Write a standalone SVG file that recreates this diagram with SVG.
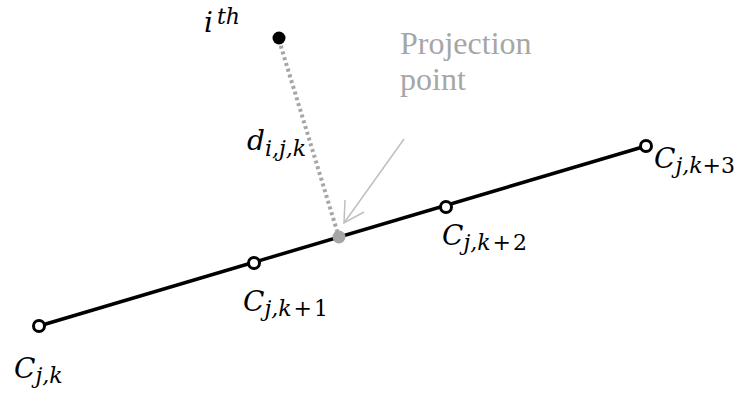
<svg xmlns="http://www.w3.org/2000/svg" width="737" height="394" viewBox="0 0 737 394">
<style>
.m{font-family:"DejaVu Serif","Liberation Serif",serif;font-style:italic;fill:#000;font-size:28px}
.sub{font-size:22px}
.up{font-style:normal}
.node{fill:#fff;stroke:#000;stroke-width:3}
.lbl{font-family:"Liberation Serif","Times New Roman",serif;font-size:32px;fill:#a6a6a6}
</style>
<rect width="737" height="394" fill="#fff"/>
<g id="connectors">
<line x1="39" y1="326" x2="646" y2="146" stroke="#000" stroke-width="3.5"/>
<line x1="279" y1="40" x2="338" y2="234" stroke="#a6a6a6" stroke-width="4" stroke-dasharray="3,3"/>
<line x1="404" y1="139" x2="344" y2="223" stroke="#bfbfbf" stroke-width="1.5"/>
<polyline points="345,200 344,223 364,212" fill="none" stroke="#bfbfbf" stroke-width="1.5"/>
</g>
<g id="C0"><circle class="node" cx="39" cy="326" r="5.5"/><text class="m" x="14" y="378">C<tspan class="sub" dy="5">j,k</tspan></text></g>
<g id="C1"><circle class="node" cx="254" cy="263" r="5.5"/><text class="m" x="243" y="311">C<tspan class="sub" dy="5">j,k<tspan class="up" dx="2">+</tspan><tspan class="up" dx="2">1</tspan></tspan></text></g>
<g id="C2"><circle class="node" cx="446" cy="207" r="5.5"/><text class="m" x="442" y="245">C<tspan class="sub" dy="5">j,k<tspan class="up" dx="2">+</tspan><tspan class="up" dx="2">2</tspan></tspan></text></g>
<g id="C3"><circle class="node" cx="646" cy="146" r="5.5"/><text class="m" x="654" y="168">C<tspan class="sub" font-size="21" dy="5">j,k<tspan class="up">+</tspan><tspan class="up">3</tspan></tspan></text></g>
<g id="proj"><circle cx="339" cy="237" r="6.5" fill="#a6a6a6"/></g>
<g id="ith"><circle cx="279" cy="38" r="6.5" fill="#000"/><text class="m" x="204" y="32">i<tspan class="sub" font-size="21" dx="4" dy="-8">th</tspan></text></g>
<g id="dist"><text class="m" x="247" y="150">d<tspan class="sub" dy="6">i,j,k</tspan></text></g>
<g id="label"><text class="lbl" x="400" y="54">Projection</text><text class="lbl" x="400" y="90">point</text></g>
</svg>
